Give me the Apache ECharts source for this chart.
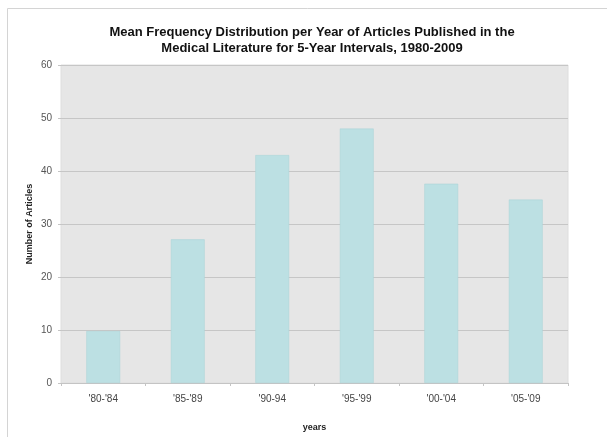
<!DOCTYPE html>
<html>
<head>
<meta charset="utf-8">
<style>
  html, body { margin: 0; padding: 0; background: #ffffff; }
  #chart { width: 607px; height: 437px; }
</style>
<script src="https://cdn.jsdelivr.net/npm/echarts@6/dist/echarts.min.js"></script>
</head>
<body>
<div id="chart"></div>
<script>
// Five-year intervals and mean articles per year in each
const intervals = ["'80-'84", "'85-'89", "'90-94", "'95-'99", "'00-'04", "'05-'09"];
const meanArticles = [9.8, 27.1, 43.0, 48.0, 37.6, 34.6];
const yTicks = { min: 0, max: 60, interval: 10 };

const chart = echarts.init(document.getElementById('chart'), null, { renderer: 'canvas' });

chart.setOption({
  backgroundColor: '#ffffff',
  animation: false,
  title: {
    text: 'Mean Frequency Distribution per Year of Articles Published in the\nMedical Literature for 5-Year Intervals, 1980-2009',
    left: 307,
    top: 19,
    textAlign: 'center',
    textStyle: {
      fontFamily: 'Liberation Sans, Arial, sans-serif',
      fontSize: 13,
      fontWeight: 'bold',
      color: '#111111',
      lineHeight: 16
    }
  },
  graphic: [{
    type: 'rect',
    silent: true,
    shape: { x: 7.5, y: 8.5, width: 640, height: 470 },
    style: { fill: 'none', stroke: '#d4d4d4', lineWidth: 1 },
    z: -1
  }],
  grid: {
    left: 61,
    right: 39,
    top: 65,
    bottom: 48,
    show: true,
    backgroundColor: '#e6e6e6',
    borderColor: '#dedede',
    borderWidth: 1
  },
  xAxis: {
    type: 'category',
    data: intervals,
    name: 'years',
    nameLocation: 'middle',
    nameGap: 40,
    nameTextStyle: {
      fontFamily: 'Liberation Sans, Arial, sans-serif',
      fontSize: 9,
      fontWeight: 'bold',
      color: '#222222'
    },
    axisLine: { show: true, lineStyle: { color: '#c4c4c4', width: 1 } },
    axisTick: { show: true, length: 3, alignWithLabel: false, lineStyle: { color: '#c4c4c4' } },
    axisLabel: {
      margin: 11,
      fontFamily: 'Liberation Sans, Arial, sans-serif',
      fontSize: 10,
      color: '#444444'
    },
    splitLine: { show: false }
  },
  yAxis: {
    type: 'value',
    min: yTicks.min,
    max: yTicks.max,
    interval: yTicks.interval,
    name: 'Number of Articles',
    nameLocation: 'middle',
    nameGap: 27,
    nameMoveOverlap: false,
    nameTextStyle: {
      fontFamily: 'Liberation Sans, Arial, sans-serif',
      fontSize: 9,
      fontWeight: 'bold',
      color: '#222222'
    },
    axisLine: { show: false },
    axisTick: { show: true, length: 3, lineStyle: { color: '#c4c4c4' } },
    axisLabel: {
      margin: 9,
      fontFamily: 'Liberation Sans, Arial, sans-serif',
      fontSize: 10,
      color: '#555555'
    },
    splitLine: { show: true, lineStyle: { color: '#c6c6c6', width: 1 } }
  },
  series: [{
    type: 'bar',
    data: meanArticles,
    barWidth: '40%',
    itemStyle: {
      color: '#bce0e3',
      borderColor: '#a9d3d7',
      borderWidth: 0.5
    }
  }]
});
</script>
</body>
</html>
